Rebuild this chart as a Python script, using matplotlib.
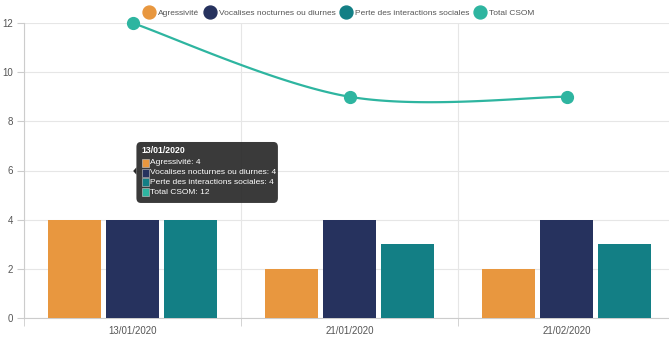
import matplotlib
matplotlib.use("Agg")
import matplotlib.pyplot as plt
from matplotlib.patches import FancyBboxPatch, Rectangle, Polygon
from matplotlib.lines import Line2D
import numpy as np

plt.rcParams['font.family'] = ['Liberation Sans', 'DejaVu Sans']

dates = ['13/01/2020', '21/01/2020', '21/02/2020']
agressivite = [4, 2, 2]
vocalises = [4, 4, 4]
perte = [4, 3, 3]
total_csom = [12, 9, 9]

names = ['Agressivité', 'Vocalises nocturnes ou diurnes',
         'Perte des interactions sociales', 'Total CSOM']
colors = ['#E8973F', '#26325E', '#137F85', '#2EB5A0']


def smooth(xs, ys, n=60):
    # catmull-rom through the points, end points duplicated
    px = [xs[0]] + list(xs) + [xs[-1]]
    py = [ys[0]] + list(ys) + [ys[-1]]
    outx, outy = [], []
    t = np.linspace(0, 1, n)
    h00 = 2 * t**3 - 3 * t**2 + 1
    h10 = t**3 - 2 * t**2 + t
    h01 = -2 * t**3 + 3 * t**2
    h11 = t**3 - t**2
    for i in range(1, len(px) - 2):
        mx0 = (px[i + 1] - px[i - 1]) / 2
        my0 = (py[i + 1] - py[i - 1]) / 2
        mx1 = (px[i + 2] - px[i]) / 2
        my1 = (py[i + 2] - py[i]) / 2
        outx.extend(h00 * px[i] + h10 * mx0 + h01 * px[i + 1] + h11 * mx1)
        outy.extend(h00 * py[i] + h10 * my0 + h01 * py[i + 1] + h11 * my1)
    return outx, outy


fig = plt.figure(figsize=(6.69, 3.38), dpi=100)
ax = fig.add_axes([24 / 669, 20 / 338, 1 - 24 / 669, 295 / 338])

x = np.arange(len(dates))
w = 0.244
off = 0.267
ax.bar(x - off, agressivite, w, color=colors[0], zorder=3)
ax.bar(x, vocalises, w, color=colors[1], zorder=3)
ax.bar(x + off, perte, w, color=colors[2], zorder=3)

sx, sy = smooth(x, total_csom)
ax.plot(sx, sy, color=colors[3], lw=1.6, zorder=4, clip_on=False)
ax.plot(x, total_csom, 'o', color=colors[3], ms=8.5, zorder=5, clip_on=False)

ax.set_xlim(-0.5, 2.472)
ax.set_ylim(0, 12)
ax.set_yticks(range(0, 13, 2))
ax.set_xticks(x)
ax.set_xticklabels(dates)
ax.set_xticks([-0.5, 0.5, 1.5], minor=True)
ax.tick_params(axis='x', which='major', length=0, pad=6, labelsize=7,
               labelcolor='#555555')
ax.tick_params(axis='x', which='minor', length=6, color='#cccccc')
ax.tick_params(axis='y', length=5, color='#cccccc', labelsize=7,
               labelcolor='#555555', pad=3)
ax.grid(axis='y', color='#e6e6e6', lw=0.8, zorder=0)
ax.grid(axis='x', which='minor', color='#e6e6e6', lw=0.8, zorder=0)
for s in ['top', 'right']:
    ax.spines[s].set_visible(False)
ax.spines['left'].set_color('#cccccc')
ax.spines['bottom'].set_color('#cccccc')

# tooltip for the first date
bx0, bx1, by0, by1 = 0.018, 0.67, 4.68, 7.16
ax.add_patch(FancyBboxPatch((bx0, by0), bx1 - bx0, by1 - by0,
                            boxstyle='round,pad=0,rounding_size=0.02',
                            fc='#2b2b2b', ec='none', alpha=0.93, zorder=6,
                            mutation_aspect=10))
ax.add_patch(Polygon([[bx0, 6.13], [bx0 - 0.015, 5.98], [bx0, 5.83]],
                     closed=True, fc='#2b2b2b', ec='none', zorder=6))
ax.text(bx0 + 0.025, 6.8, dates[0], color='white', fontsize=6.3,
        fontweight='bold', va='center', zorder=7)
tip = [agressivite[0], vocalises[0], perte[0], total_csom[0]]
for i in range(4):
    yy = 6.31 - i * 0.395
    ax.add_patch(Rectangle((bx0 + 0.025, yy - 0.16), 0.034, 0.32,
                           fc=colors[i], ec='#cccccc', lw=0.4, zorder=7))
    ax.text(bx0 + 0.062, yy, '%s: %d' % (names[i], tip[i]), color='white',
            fontsize=6.0, va='center', zorder=7)

handles = [Line2D([], [], ls='none', marker='o', ms=9.3, color=c) for c in colors]
fig.legend(handles, names, loc='center', bbox_to_anchor=(0.506, 1 - 13 / 338),
           ncol=4, frameon=False, fontsize=6.0, handletextpad=0.3,
           columnspacing=0.45, labelcolor='#555555', handlelength=1.6)

fig.savefig('out.png', dpi=100)
